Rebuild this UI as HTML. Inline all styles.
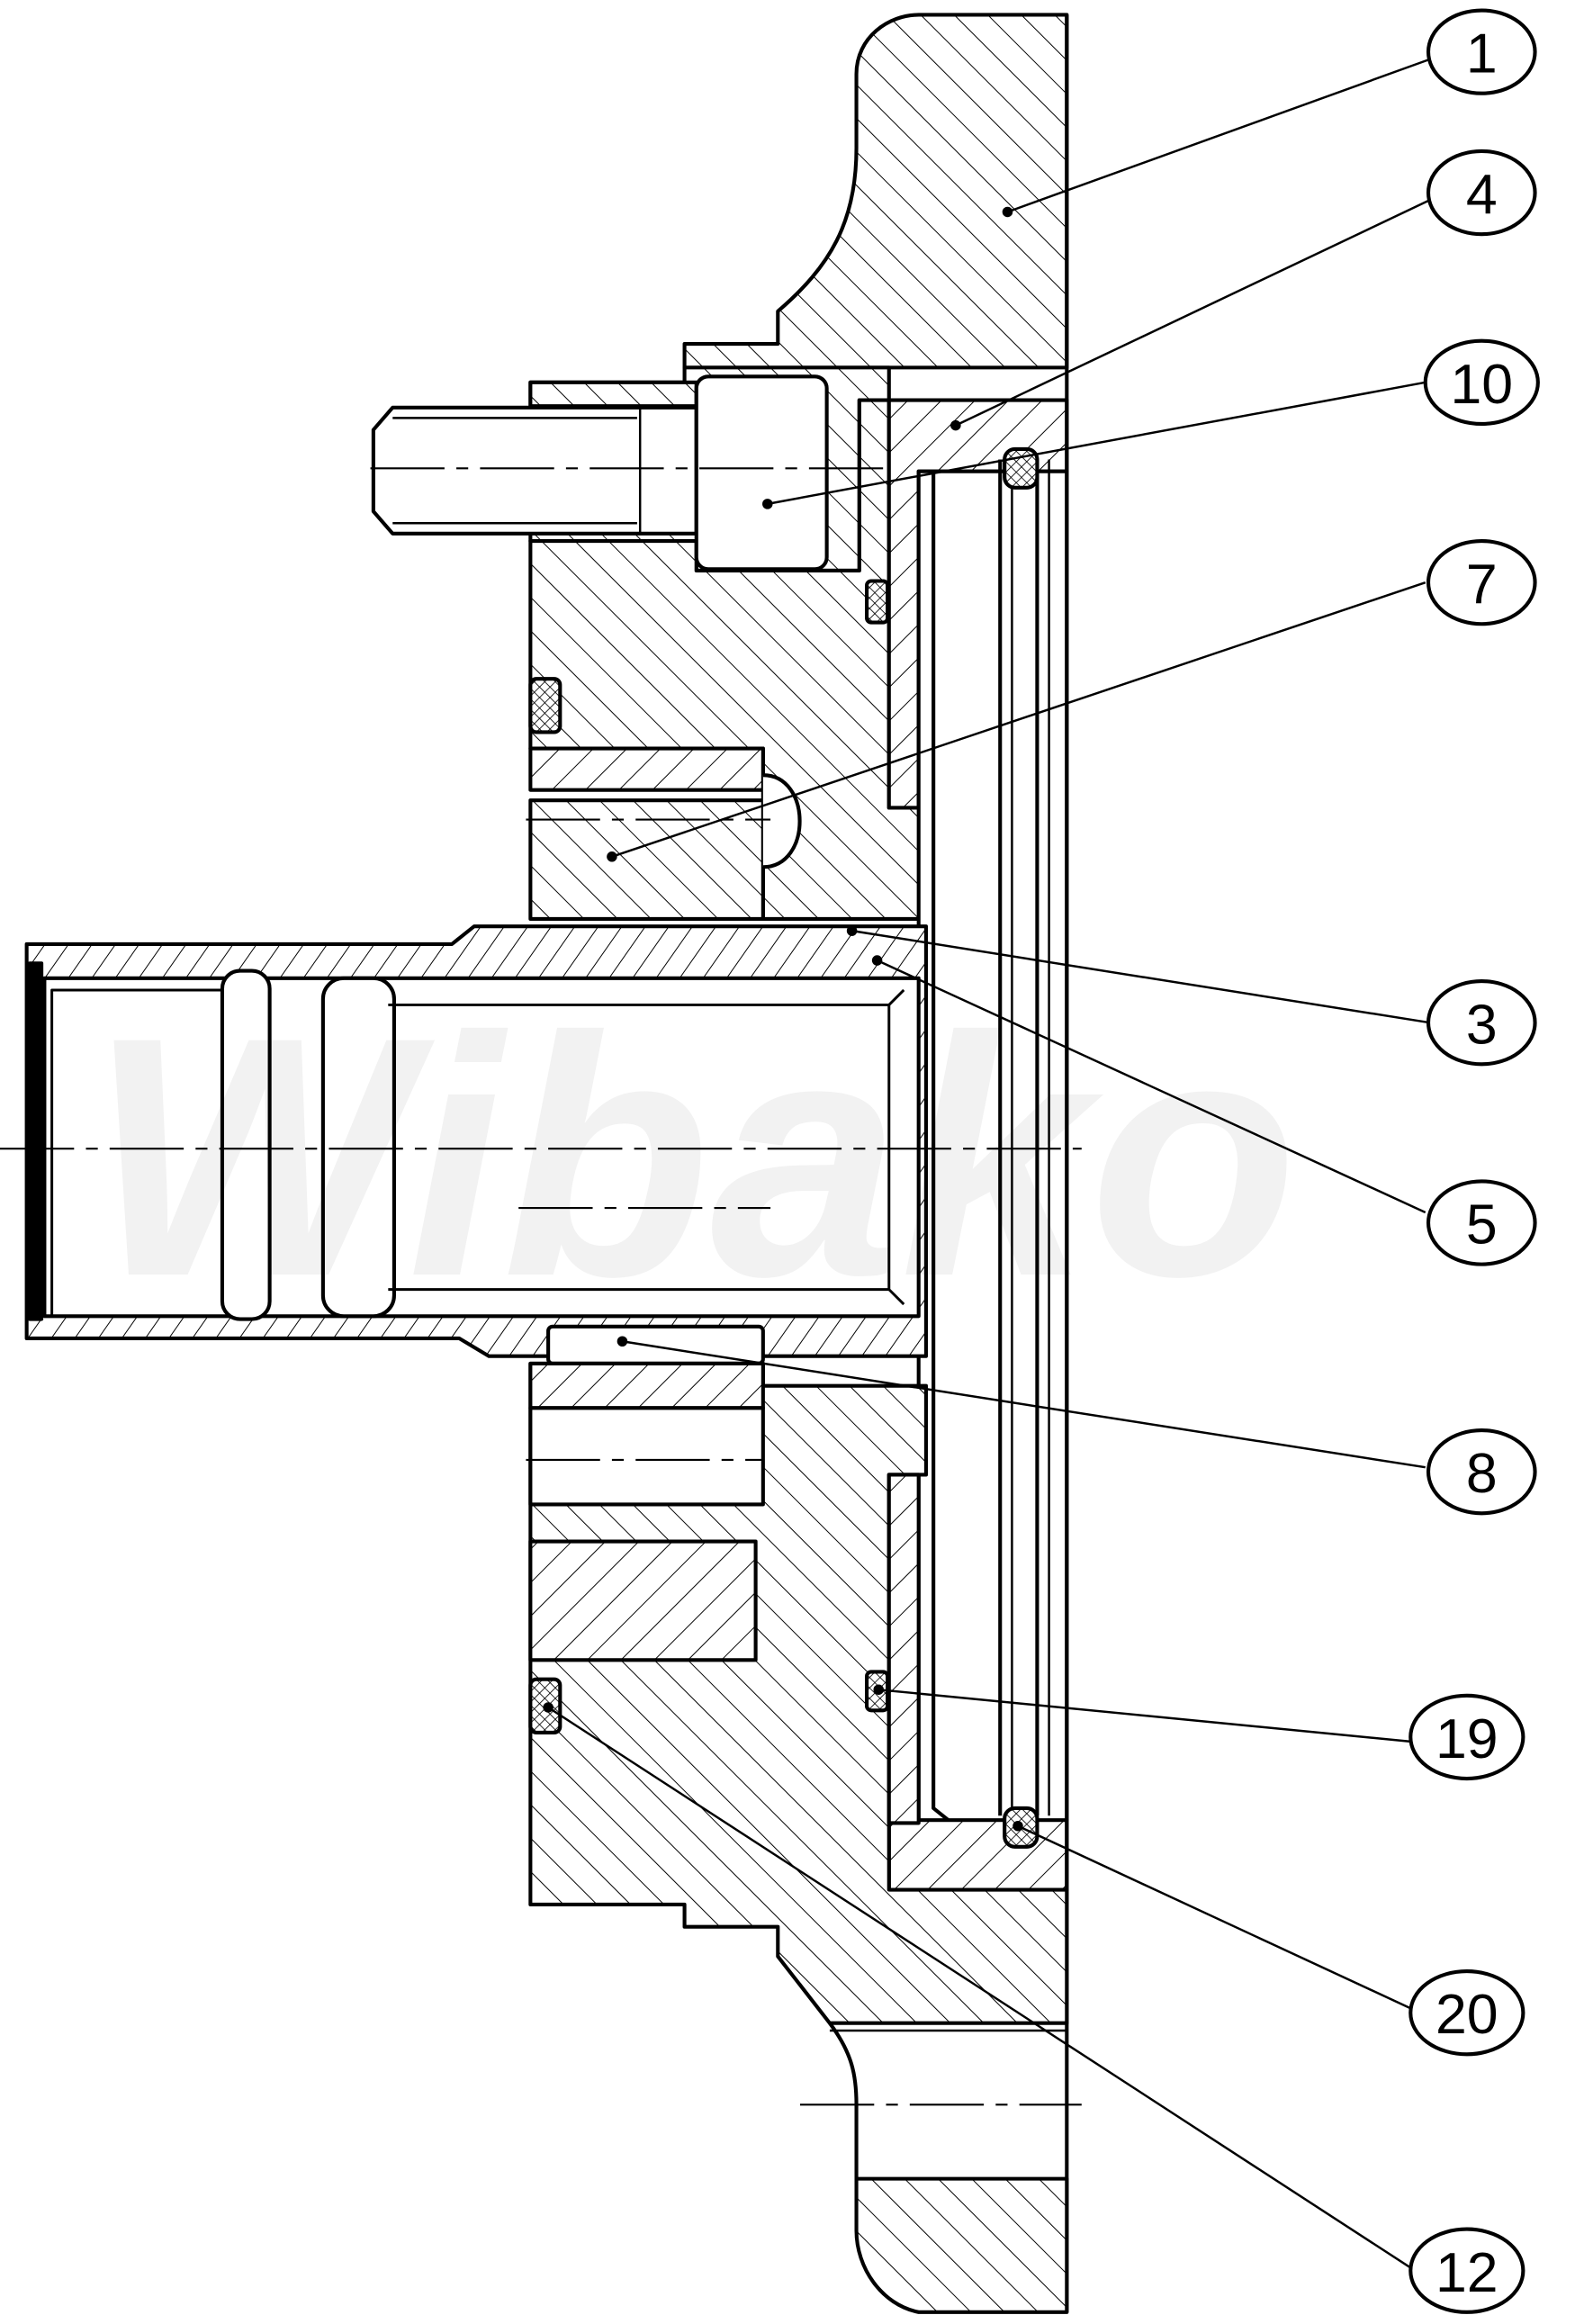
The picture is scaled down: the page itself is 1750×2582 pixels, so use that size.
<!DOCTYPE html>
<html><head><meta charset="utf-8"><style>html,body{margin:0;padding:0;background:#fff}svg{display:block}</style></head>
<body>
<svg width="1750" height="2582" viewBox="0 0 1063 1568" preserveAspectRatio="none" xmlns="http://www.w3.org/2000/svg">
<defs>
<pattern id="h1" width="16" height="16" patternUnits="userSpaceOnUse" patternTransform="rotate(-45)"><rect width="16" height="16" fill="#fff"/><line x1="0" y1="0" x2="0" y2="16" stroke="#000" stroke-width="1.2"/></pattern>
<pattern id="h2" width="16" height="16" patternUnits="userSpaceOnUse" patternTransform="rotate(45)"><rect width="16" height="16" fill="#fff"/><line x1="0" y1="0" x2="0" y2="16" stroke="#000" stroke-width="1.2"/></pattern>
<pattern id="h3" width="13" height="13" patternUnits="userSpaceOnUse" patternTransform="rotate(35)"><rect width="13" height="13" fill="#fff"/><line x1="0" y1="0" x2="0" y2="13" stroke="#000" stroke-width="1.2"/></pattern>
<pattern id="x" width="5" height="5" patternUnits="userSpaceOnUse" patternTransform="rotate(45)"><rect width="5" height="5" fill="#fff"/><line x1="0" y1="0" x2="0" y2="5" stroke="#000" stroke-width="1"/><line x1="0" y1="0" x2="5" y2="0" stroke="#000" stroke-width="1"/></pattern>
</defs>
<rect width="1063" height="1568" fill="#fff"/>
<g stroke="#000" stroke-width="2.5" stroke-linejoin="round">
<path d="M620,10 L720,10 L720,248 L462,248 L462,232 L525,232 L525,210 C560,180 578,150 578,100 L578,50 C578,25 600,10 620,10 Z" fill="url(#h1)"/>
<path d="M358,258 L462,258 L462,248 L600,248 L600,270 L580,270 L580,385 L470,385 L470,365 L358,365 Z" fill="url(#h1)"/>
<rect x="358" y="258" width="112" height="16" fill="url(#h1)"/>
<path d="M358,365 L470,365 L470,385 L580,385 L580,270 L600,270 L600,545 L625,545 L625,620 L515,620 L515,505 L358,505 Z" fill="url(#h1)"/>
<rect x="358" y="505" width="157" height="28" fill="url(#h2)"/>
<rect x="358" y="540" width="157" height="80" fill="url(#h1)"/>
<path d="M515,523 C548,523 548,585 515,585" fill="#fff"/>
<path d="M265,275 L470,275 L470,360 L265,360 L252,345 L252,290 Z" fill="#fff"/>
<line x1="265" y1="282" x2="430" y2="282" stroke-width="1.5"/><line x1="265" y1="353" x2="430" y2="353" stroke-width="1.5"/>
<line x1="432" y1="275" x2="432" y2="360" stroke-width="1.5"/>
<rect x="470" y="254" width="88" height="130" rx="8" fill="#fff"/>
<path d="M600,270 L720,270 L720,318 L620,318 L620,545 L600,545 Z" fill="url(#h2)"/>
<path d="M600,995 L620,995 L620,1228 L720,1228 L720,1275 L600,1275 Z" fill="url(#h2)"/>
<rect x="620" y="318" width="100" height="910" fill="#fff"/>
<path d="M630,318 L630,1220 L640,1228" fill="none"/>
<line x1="675" y1="310" x2="675" y2="1225"/><line x1="683" y1="310" x2="683" y2="1225" stroke-width="1.5"/>
<line x1="700" y1="310" x2="700" y2="1225"/><line x1="708" y1="310" x2="708" y2="1225" stroke-width="1.5"/>
<line x1="720" y1="10" x2="720" y2="1560"/>
<path d="M18,637 L305,637 L320,625 L625,625 L625,915 L330,915 L310,903 L18,903 Z" fill="url(#h3)"/>
<rect x="30" y="660" width="590" height="228" fill="#fff"/>
<rect x="35" y="668" width="120" height="220" fill="none" stroke-width="1.8"/>
<rect x="150" y="655" width="32" height="235" rx="12" fill="#fff"/>
<rect x="218" y="660" width="48" height="228" rx="14" fill="#fff"/>
<path d="M262,678 L600,678 L610,668 M262,870 L600,870 L610,880 M600,678 L600,870" fill="none" stroke-width="1.8"/>
<rect x="20" y="650" width="8" height="240" fill="#000"/>
<rect x="370" y="895" width="145" height="25" rx="3" fill="#fff"/>
<path d="M358,920 L515,920 L515,935 L625,935 L625,995 L600,995 L600,1275 L720,1275 L720,1365 L560,1365 L525,1320 L525,1300 L462,1300 L462,1285 L358,1285 Z" fill="url(#h1)"/>
<rect x="358" y="920" width="157" height="30" fill="url(#h2)"/>
<rect x="358" y="950" width="157" height="65" fill="#fff"/>
<rect x="358" y="1040" width="152" height="80" fill="url(#h2)"/>
<rect x="600" y="995" width="20" height="235" fill="url(#h2)"/>
<path d="M560,1365 C575,1385 578,1400 578,1420 L578,1470" fill="none"/>
<line x1="560" y1="1370" x2="720" y2="1370" stroke-width="1.5"/>
<path d="M578,1470 L720,1470 L720,1560 L620,1560 C595,1555 578,1530 578,1505 Z" fill="url(#h1)"/>
<rect x="678" y="303" width="22" height="26" rx="7" fill="url(#x)"/>
<rect x="678" y="1220" width="22" height="26" rx="7" fill="url(#x)"/>
<rect x="585" y="392" width="14" height="28" rx="3" fill="url(#x)"/>
<rect x="585" y="1128" width="14" height="26" rx="3" fill="url(#x)"/>
<rect x="358" y="458" width="20" height="36" rx="4" fill="url(#x)"/>
<rect x="358" y="1133" width="20" height="36" rx="4" fill="url(#x)"/>
</g>
<text x="60" y="860" font-family="Liberation Sans, sans-serif" font-size="230" font-weight="bold" font-style="italic" fill="#000" fill-opacity="0.05">Wibako</text>
<g stroke="#000" stroke-width="1.3" stroke-dasharray="50,8,8,8" fill="none">
<line x1="0" y1="775" x2="730" y2="775"/>
<line x1="250" y1="316" x2="600" y2="316"/>
<line x1="355" y1="553" x2="520" y2="553"/>
<line x1="355" y1="985" x2="515" y2="985"/>
<line x1="350" y1="815" x2="520" y2="815"/>
<line x1="540" y1="1420" x2="730" y2="1420"/>
</g>
<g stroke="#000" stroke-width="1.5">
<line x1="680" y1="143" x2="965" y2="40"/>
<line x1="645" y1="287" x2="965" y2="135"/>
<line x1="518" y1="340" x2="962" y2="258"/>
<line x1="413" y1="578" x2="962" y2="393"/>
<line x1="575" y1="628" x2="965" y2="690"/>
<line x1="592" y1="648" x2="962" y2="818"/>
<line x1="420" y1="905" x2="962" y2="990"/>
<line x1="593" y1="1140" x2="952" y2="1175"/>
<line x1="687" y1="1232" x2="952" y2="1355"/>
<line x1="370" y1="1152" x2="952" y2="1530"/>
</g>
<g fill="#000">
<circle cx="680" cy="143" r="3.5"/><circle cx="645" cy="287" r="3.5"/><circle cx="518" cy="340" r="3.5"/>
<circle cx="413" cy="578" r="3.5"/><circle cx="575" cy="628" r="3.5"/><circle cx="592" cy="648" r="3.5"/>
<circle cx="420" cy="905" r="3.5"/><circle cx="593" cy="1140" r="3.5"/><circle cx="687" cy="1232" r="3.5"/><circle cx="370" cy="1152" r="3.5"/>
</g>
<g fill="#fff" stroke="#000" stroke-width="2.5">
<ellipse cx="1000" cy="35" rx="36" ry="28"/><ellipse cx="1000" cy="130" rx="36" ry="28"/>
<ellipse cx="1000" cy="258" rx="38" ry="28"/><ellipse cx="1000" cy="393" rx="36" ry="28"/>
<ellipse cx="1000" cy="690" rx="36" ry="28"/><ellipse cx="1000" cy="825" rx="36" ry="28"/>
<ellipse cx="1000" cy="993" rx="36" ry="28"/><ellipse cx="990" cy="1172" rx="38" ry="28"/>
<ellipse cx="990" cy="1358" rx="38" ry="28"/><ellipse cx="990" cy="1532" rx="38" ry="28"/>
</g>
<g font-family="Liberation Sans, sans-serif" font-size="38" text-anchor="middle" fill="#000">
<text x="1000" y="49">1</text><text x="1000" y="144">4</text><text x="1000" y="272">10</text>
<text x="1000" y="407">7</text><text x="1000" y="704">3</text><text x="1000" y="839">5</text>
<text x="1000" y="1007">8</text><text x="990" y="1186">19</text><text x="990" y="1372">20</text><text x="990" y="1546">12</text>
</g>
</svg>
</body></html>
